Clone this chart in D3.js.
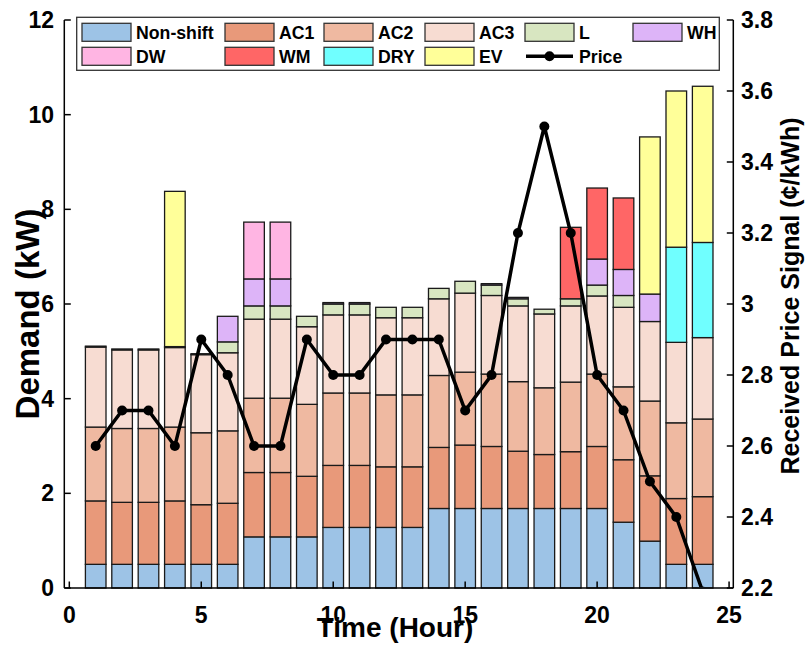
<!DOCTYPE html>
<html>
<head>
<meta charset="utf-8">
<script src="https://cdn.jsdelivr.net/npm/d3@7"></script>
<style>
body { margin: 0; background: #fff; }
text { font-family: "Liberation Sans", Arial, sans-serif; font-weight: bold; }
</style>
</head>
<body>
<script>
// data (kW per appliance, stacked in this order)
var hours = [1,2,3,4,5,6,7,8,9,10,11,12,13,14,15,16,17,18,19,20,21,22,23,24];
var nonShift = [0.5,0.5,0.5,0.5,0.5,0.5,1.08,1.08,1.08,1.28,1.28,1.28,1.28,1.68,1.68,1.68,1.68,1.68,1.68,1.68,1.39,0.99,0.5,0.5];
var ac1 = [1.34,1.31,1.31,1.34,1.26,1.29,1.36,1.36,1.28,1.31,1.31,1.28,1.28,1.29,1.34,1.31,1.21,1.14,1.2,1.31,1.32,1.38,1.39,1.43];
var ac2 = [1.56,1.56,1.56,1.56,1.52,1.53,1.57,1.57,1.52,1.53,1.53,1.52,1.52,1.52,1.54,1.53,1.47,1.41,1.47,1.53,1.54,1.58,1.6,1.64];
var ac3 = [1.69,1.66,1.66,1.68,1.65,1.65,1.67,1.67,1.64,1.65,1.65,1.63,1.63,1.62,1.67,1.66,1.6,1.56,1.61,1.65,1.68,1.68,1.7,1.72];
var light = [0.02,0.02,0.02,0.02,0.02,0.23,0.28,0.28,0.22,0.23,0.23,0.22,0.22,0.22,0.25,0.22,0.15,0.1,0.15,0.23,0.25,0,0,0];
var wh = [0,0,0,0,0,0.54,0.57,0.57,0,0.03,0.03,0,0,0,0,0.03,0.03,0,0,0.55,0.55,0.58,0,0];
var dw = [0,0,0,0,0,0,1.2,1.2,0,0,0,0,0,0,0,0,0,0,0,0,0,0,0,0];
var wm = [0,0,0,0,0,0,0,0,0,0,0,0,0,0,0,0,0,0,1.51,1.5,1.51,0,0,0];
var dry = [0,0,0,0,0,0,0,0,0,0,0,0,0,0,0,0,0,0,0,0,0,0,2.01,2.01];
var ev = [0,0,0,3.28,0,0,0,0,0,0,0,0,0,0,0,0,0,0,0,0,0,3.32,3.3,3.3];
var price = [2.6,2.7,2.7,2.6,2.9,2.8,2.6,2.6,2.9,2.8,2.8,2.9,2.9,2.9,2.7,2.8,3.2,3.5,3.2,2.8,2.7,2.5,2.4,2.19];

var keys = ["Non-shift","AC1","AC2","AC3","L","WH","DW","WM","DRY","EV"];
var colors = ["#9dc3e6","#e8997a","#efb9a1","#f7dcd2","#d8e6c1","#ddb4f8","#ffb5e3","#ff6666","#70ffff","#ffff99"];
var leftTicks = [0,2,4,6,8,10,12];
var rightTicks = [2.2,2.4,2.6,2.8,3,3.2,3.4,3.6,3.8];
var xTicks = [0,5,10,15,20,25];

var series = [nonShift, ac1, ac2, ac3, light, wh, dw, wm, dry, ev];
var table = hours.map(function(h, i){
	var row = {hour: h};
	keys.forEach(function(k, j){ row[k] = series[j][i]; });
	return row;
});

var W = 806, H = 648;
var pL = 64.3, pR = 733.3, pT = 20, pB = 588; // plot box

var svg = d3.select("body").append("svg").attr("width", W).attr("height", H);

var x = d3.scaleLinear().domain([-0.19, 25.16]).range([pL, pR]);
var y = d3.scaleLinear().domain([0, 12]).range([pB, pT]);
var y2 = d3.scaleLinear().domain([2.2, 3.8]).range([pB, pT]);
var color = d3.scaleOrdinal().domain(keys).range(colors);

var stack = d3.stack().keys(keys)(table);
var bw = 20.6;

svg.append("defs").append("clipPath").attr("id", "plot")
	.append("rect").attr("x", pL).attr("y", pT).attr("width", pR-pL).attr("height", pB-pT-1);

var layers = svg.append("g").selectAll("g")
	.data(stack)
	.enter().append("g")
	.attr("fill", function(d){ return color(d.key); });

layers.selectAll("rect")
	.data(function(d){ return d.filter(function(p){ return p[1]-p[0] > 0; }); })
	.enter().append("rect")
	.attr("x", function(d){ return x(d.data.hour) - bw/2; })
	.attr("y", function(d){ return y(d[1]); })
	.attr("width", bw)
	.attr("height", function(d){ return y(d[0]) - y(d[1]); })
	.attr("stroke", "#1a1a1a")
	.attr("stroke-width", 1.3);

// price line
var line = d3.line().x(function(d, i){ return x(hours[i]); }).y(function(d){ return y2(d); });
var pg = svg.append("g").attr("clip-path", "url(#plot)");
pg.append("path").datum(price)
	.attr("d", line).attr("fill", "none").attr("stroke", "#000").attr("stroke-width", 3.5);
pg.selectAll("circle").data(price).enter().append("circle")
	.attr("cx", function(d, i){ return x(hours[i]); })
	.attr("cy", function(d){ return y2(d); })
	.attr("r", 5).attr("fill", "#000");

// axes
var ax = svg.append("g").attr("stroke", "#000").attr("stroke-width", 1.5);
ax.append("line").attr("x1", pL).attr("x2", pL).attr("y1", pT).attr("y2", pB);
ax.append("line").attr("x1", pR).attr("x2", pR).attr("y1", pT).attr("y2", pB);
ax.append("line").attr("x1", pL).attr("x2", pR).attr("y1", pB).attr("y2", pB);

ax.selectAll(".lt").data(leftTicks).enter().append("line")
	.attr("x1", pL).attr("x2", pL+6.5)
	.attr("y1", function(d){ return y(d); }).attr("y2", function(d){ return y(d); });
ax.selectAll(".rt").data(rightTicks).enter().append("line")
	.attr("x1", pR).attr("x2", pR-6.5)
	.attr("y1", function(d){ return y2(d); }).attr("y2", function(d){ return y2(d); });
ax.selectAll(".bt").data(xTicks).enter().append("line")
	.attr("x1", function(d){ return x(d); }).attr("x2", function(d){ return x(d); })
	.attr("y1", pB).attr("y2", pB-6.5);

svg.selectAll(".ll").data(leftTicks).enter().append("text")
	.attr("x", 54).attr("y", function(d){ return y(d) + 8; })
	.attr("text-anchor", "end").attr("font-size", 23)
	.text(function(d){ return d; });
svg.selectAll(".rl").data(rightTicks).enter().append("text")
	.attr("x", 741).attr("y", function(d){ return y2(d) + 8; })
	.attr("font-size", 23)
	.text(function(d){ return d3.format("")(Math.round(d*10)/10); });
svg.selectAll(".bl").data(xTicks).enter().append("text")
	.attr("x", function(d){ return x(d); }).attr("y", 623)
	.attr("text-anchor", "middle").attr("font-size", 23)
	.text(function(d){ return d; });

// axis titles
svg.append("text").attr("x", 395).attr("y", 637).attr("text-anchor", "middle")
	.attr("font-size", 28).text("Time (Hour)");
svg.append("text").attr("transform", "translate(39,314) rotate(-90)").attr("text-anchor", "middle")
	.attr("font-size", 33).text("Demand (kW)");
svg.append("text").attr("transform", "translate(799,296) rotate(-90)").attr("text-anchor", "middle")
	.attr("font-size", 25).text("Received Price Signal (¢/kWh)");

// legend
var lg = svg.append("g");
lg.append("rect").attr("x", 76.7).attr("y", 17.3).attr("width", 642.6).attr("height", 53)
	.attr("fill", "#fff").attr("stroke", "#333").attr("stroke-width", 1.3);
var colX = [82, 225, 324, 425, 525, 633];
var rowY = [23.3, 47.3];
var items = keys.concat(["Price"]);
items.forEach(function(k, i){
	var cx = colX[i % 6], cy = rowY[Math.floor(i / 6)];
	if (k == "Price") {
		lg.append("line").attr("x1", cx+1).attr("x2", cx+48).attr("y1", cy+9).attr("y2", cy+9)
			.attr("stroke", "#000").attr("stroke-width", 3.5);
		lg.append("circle").attr("cx", cx+24.5).attr("cy", cy+9).attr("r", 5).attr("fill", "#000");
	} else {
		lg.append("rect").attr("x", cx).attr("y", cy).attr("width", 49).attr("height", 18)
			.attr("fill", color(k)).attr("stroke", "#333").attr("stroke-width", 1.3);
	}
	lg.append("text").attr("x", cx+54).attr("y", cy+15.5).attr("font-size", 17.7).text(k);
});
</script>
</body>
</html>
